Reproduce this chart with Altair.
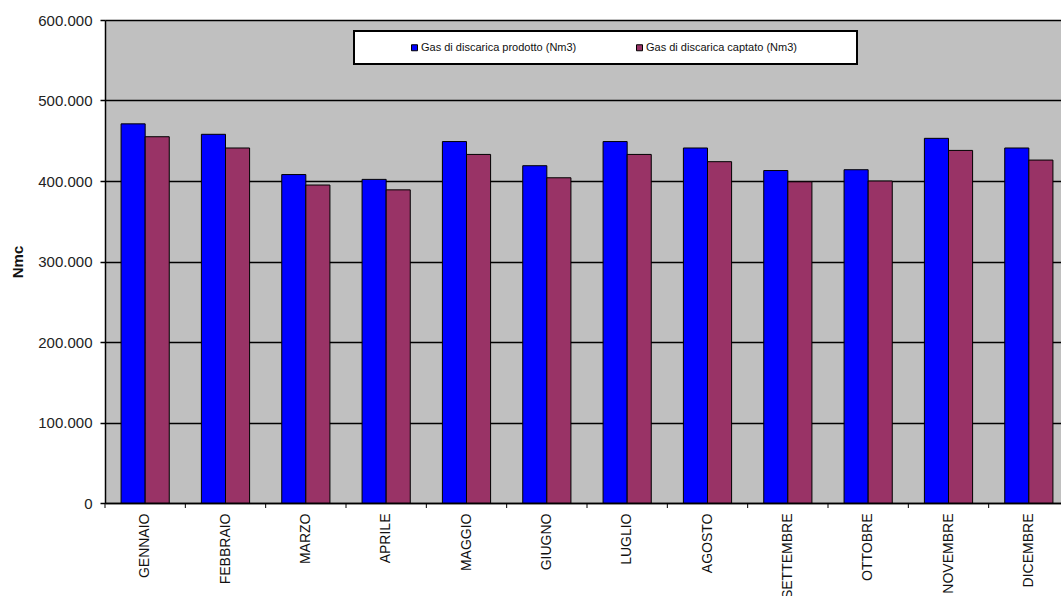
import altair as alt
import pandas as pd

# Monthly landfill gas volumes (Nm3)
months = ["GENNAIO", "FEBBRAIO", "MARZO", "APRILE", "MAGGIO", "GIUGNO",
          "LUGLIO", "AGOSTO", "SETTEMBRE", "OTTOBRE", "NOVEMBRE", "DICEMBRE"]
prodotto = [471000, 458000, 408000, 402000, 449000, 419000,
            449000, 441000, 413000, 414000, 453000, 441000]
captato = [455000, 441000, 395000, 389000, 433000, 404000,
           433000, 424000, 399000, 400000, 438000, 426000]
series_names = ["Gas di discarica prodotto (Nm3)", "Gas di discarica captato (Nm3)"]
series_colors = ["#0000FF", "#993366"]
y_ticks = [0, 100000, 200000, 300000, 400000, 500000, 600000]

rows = []
for m, p, c in zip(months, prodotto, captato):
    rows.append({"mese": m, "serie": series_names[0], "valore": p})
    rows.append({"mese": m, "serie": series_names[1], "valore": c})
df = pd.DataFrame(rows)

W, H = 956, 483
FONT = "Liberation Sans"
# trailing spacer for the last legend label (widens the legend frame on the right)
SPACER = "\u00a0" * 16 + "\u200b"

x_scale = alt.Scale(domain=months, range=[0, 964], paddingInner=0, paddingOuter=0)
x_axis = alt.Axis(
    title=None, labelAngle=-90, ticks=False, grid=False,
    domainColor="black", domainWidth=1.5,
    labelFont=FONT, labelFontSize=14, labelColor="#111111",
    labelPadding=10,
)

bars = alt.Chart(df).mark_bar(stroke="black", strokeWidth=1).encode(
    x=alt.X("mese:N", scale=x_scale, axis=x_axis),
    xOffset=alt.XOffset(
        "serie:N",
        scale=alt.Scale(domain=series_names, paddingInner=0, paddingOuter=0.667),
    ),
    y=alt.Y(
        "valore:Q",
        scale=alt.Scale(domain=[0, 600000], nice=False),
        axis=alt.Axis(
            values=y_ticks,
            labelExpr="datum.value == 0 ? '0' : format(datum.value / 1000, 'd') + '.000'",
            title="Nmc", titleFont=FONT, titleFontSize=15, titleFontWeight="bold",
            titleColor="#111111", titlePadding=12,
            labelFont=FONT, labelFontSize=15, labelColor="#222222", labelPadding=8,
            tickSize=5, tickColor="black", tickWidth=1.5,
            domainColor="black", domainWidth=1.5,
            grid=True, gridColor="black", gridWidth=1.5,
        ),
    ),
    color=alt.Color(
        "serie:N",
        scale=alt.Scale(domain=series_names, range=series_colors),
        legend=alt.Legend(
            title=None, orient="none", legendX=249, legendY=11,
            direction="horizontal", fillColor="white", strokeColor="black",
            padding=11, symbolType="square", symbolSize=36,
            symbolStrokeColor="black", symbolStrokeWidth=1,
            symbolOffset=44, columnPadding=13, labelOffset=1,
            labelFont=FONT, labelFontSize=11, labelColor="#111111", labelLimit=500,
            labelExpr="datum.index == 1 ? datum.label + '" + SPACER + "' : datum.label",
        ),
    ),
)

# small ticks on the category axis, at the slot boundaries
ticks = alt.Chart(pd.DataFrame({"mese": months})).mark_rule(
    color="black", strokeWidth=1
).encode(
    x=alt.X("mese:N", bandPosition=0, scale=x_scale, axis=x_axis),
    y=alt.value(H),
    y2=alt.value(H + 5),
)

chart = alt.layer(bars, ticks).properties(
    width=W,
    height=H,
    background="white",
    autosize=alt.AutoSizeParams(type="none"),
    padding={"left": 105, "top": 20, "right": 0, "bottom": 93},
).configure_view(
    fill="#C0C0C0", stroke="transparent"
).configure_legend(
    strokeWidth=2
)

chart.save("out.html", embed_options={"renderer": "svg", "actions": False})
